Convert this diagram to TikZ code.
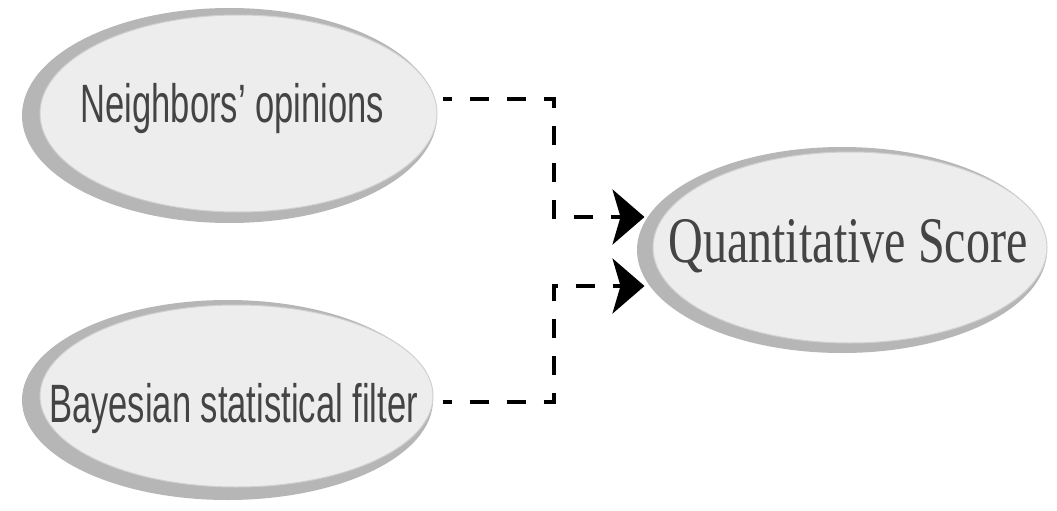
\documentclass[tikz,border=0pt]{standalone}
\usepackage{fontspec}
\usetikzlibrary{arrows.meta,backgrounds,shapes.geometric}
\newfontfamily\labelsans[FakeStretch=0.64]{Liberation Sans}
\newfontfamily\labelserif[FakeStretch=0.74]{Liberation Serif}
\definecolor{bubblefill}{RGB}{237,237,237}
\definecolor{bubblerim}{RGB}{182,182,182}
\definecolor{bubbleedge}{RGB}{208,208,208}
\definecolor{labelgray}{RGB}{68,68,68}
\tikzset{
  bubble/.style={ellipse, fill=bubblefill, draw=bubbleedge, line width=1pt, inner sep=0pt},
  rim/.style={fill=bubblerim},
  sanslabel/.style={anchor=base, inner sep=0pt, text=labelgray,
    font=\labelsans\fontsize{54}{58}\selectfont},
  seriflabel/.style={anchor=base, inner sep=0pt, text=labelgray,
    font=\labelserif\fontsize{65}{70}\selectfont},
  flow/.style={line width=4pt, dash pattern=on 19pt off 18pt, dash phase=10pt,
    -{Stealth[length=32pt,width=55pt,inset=8pt]}}
}
\begin{document}
\begin{tikzpicture}[x=1pt,y=-1pt]
  \useasboundingbox (0,0) rectangle (1057,511);

  % ellipses
  \node[bubble, minimum width=397pt, minimum height=197pt] (nb) at (238.5,113.5) {};
  \node[bubble, minimum width=393pt, minimum height=182pt] (bf) at (236.5,396) {};
  \node[bubble, minimum width=394pt, minimum height=191pt] (qs) at (850,247.5) {};

  % grey rims behind the ellipses
  \begin{scope}[on background layer]
    \fill[white] (0,0) rectangle (1057,511);
    \fill[rim] ([xshift=-9pt,yshift=-2pt]nb.center) ellipse [x radius=207.5pt, y radius=107.5pt];
    \fill[rim] ([xshift=-9pt,yshift=-4pt]bf.center) ellipse [x radius=205.5pt, y radius=100pt];
    \fill[rim] ([xshift=-8pt,yshift=-2.5pt]qs.center) ellipse [x radius=205pt, y radius=103pt];
  \end{scope}

  % labels
  \node[sanslabel] (nbtext) at (232.5,122) {Neighbors’ opinions};
  \node[sanslabel] (bftext) at (233.5,422) {Bayesian statistical filter};
  \node[seriflabel] (qstext) at (848,262) {Quantitative Score};

  % arrow tips next to the score ellipse
  \coordinate (tipA) at ([xshift=-8pt,yshift=30.5pt]qs.west);
  \coordinate (tipB) at ([xshift=-8pt,yshift=-38.5pt]qs.west);

  % connectors
  \draw[flow] ([xshift=5pt,yshift=14.5pt]nb.east) -- ++(111,0) |- (tipA);
  \draw[flow] ([xshift=9pt,yshift=-6pt]bf.east) -- ++(111,0) |- (tipB);
\end{tikzpicture}
\end{document}
